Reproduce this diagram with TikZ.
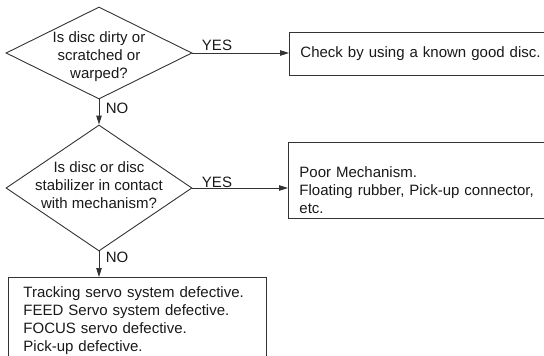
\documentclass[tikz,border=0pt]{standalone}
\usepackage{fontspec}
\setmainfont{Liberation Sans}
\usetikzlibrary{shapes.geometric,arrows.meta}

\begin{document}
\begin{tikzpicture}[x=1pt, y=-1pt,
    linea/.style={draw=black!80, line width=0.9pt},
    testo/.style={font=\fontsize{15}{18}\selectfont, text=black!90},
    rombo/.style={linea, diamond, inner sep=0pt, minimum width=186pt},
    scatola/.style={linea, testo, rectangle, anchor=north west, align=left,
                    inner xsep=11pt, inner ysep=9pt},
    freccia/.style={linea, -{Triangle[length=9pt,width=5.5pt]}}]
    \useasboundingbox (0,0) rectangle (544,356);

    % Primo rombo (disco sporco)
    \node[rombo, minimum height=92pt] (rombo1) at (99,53) {};
    \node[testo, align=center] (dom1) at (99,57) {Is disc dirty or\\scratched or\\warped?};

    % Secondo rombo (contatto meccanica)
    \node[rombo, minimum height=126pt] (rombo2) at (99,188) {};
    \node[testo, align=center] (dom2) at (99,185) {Is disc or disc\\stabilizer in contact\\with mechanism?};

    % Riquadri
    \node[scatola, text width=242pt, minimum height=43pt, inner ysep=0pt] (controllo) at (289,32)
        {Check by using a known good disc.};
    \node[scatola, text width=242pt, minimum height=76pt, inner ysep=0pt] (meccanica) at (288,142)
        {\strut\\Poor Mechanism.\\Floating rubber, Pick-up connector,\\etc.};
    \node[scatola, text width=228pt, inner xsep=15pt] (guasti) at (8,277)
        {Tracking servo system defective.\\FEED Servo system defective.\\FOCUS servo defective.\\Pick-up defective.};

    % Frecce
    \draw[freccia] (rombo1.east) -- (rombo1.east -| controllo.west);
    \draw[freccia] (rombo1.south) -- (rombo2.north);
    \draw[freccia] (rombo2.east) -- (rombo2.east -| meccanica.west);
    \draw[freccia] (rombo2.south) -- (rombo2.south |- guasti.north);

    % Etichette SI / NO
    \node[testo] (si1) at (217,45) {YES};
    \node[testo] (no1) at (117,108) {NO};
    \node[testo] (si2) at (217,182) {YES};
    \node[testo] (no2) at (117,257) {NO};

\end{tikzpicture}
\end{document}
